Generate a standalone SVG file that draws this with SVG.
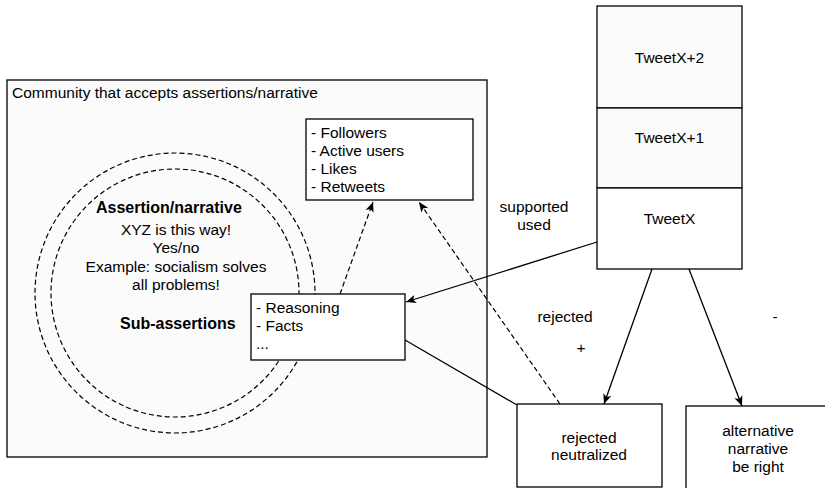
<svg xmlns="http://www.w3.org/2000/svg" width="825" height="488" viewBox="0 0 825 488">
<defs>
<style>
text{font-family:"Liberation Sans",Arial,sans-serif;font-size:15.5px;fill:#000}
.b{font-weight:bold;font-size:16px}
.m{text-anchor:middle}
.box{fill:#fff;stroke:#000;stroke-width:1.3}
.grey{fill:#fbfbfb;stroke:#000;stroke-width:1.3}
.dash{fill:none;stroke:#000;stroke-width:1.2;stroke-dasharray:5 3}
.ln{fill:none;stroke:#000;stroke-width:1.3}
</style>
<marker id="ah" viewBox="0 0 10 10" refX="10" refY="5" markerWidth="10" markerHeight="10" markerUnits="userSpaceOnUse" orient="auto">
<path d="M0,0.8 L10,5 L0,9.2 L2.5,5 Z" fill="#000"/>
</marker>
</defs>
<rect width="825" height="488" fill="#fff"/>
<g id="community">
<rect class="grey" x="7" y="80" width="480" height="377"/>
<text x="12" y="98">Community that accepts assertions/narrative</text>
</g>
<g id="assertion">
<circle class="dash" cx="175" cy="293" r="140"/>
<circle class="dash" cx="175" cy="293" r="124"/>
<text class="b" x="96" y="213">Assertion/narrative</text>
<text class="m" x="176" y="235">XYZ is this way!</text>
<text class="m" x="176" y="253">Yes/no</text>
<text class="m" x="176" y="272">Example: socialism solves</text>
<text class="m" x="176" y="290">all problems!</text>
<text class="b" x="120" y="329">Sub-assertions</text>
</g>
<g id="metrics">
<rect class="box" x="306" y="119" width="167" height="81"/>
<text x="311" y="138">- Followers</text>
<text x="311" y="156">- Active users</text>
<text x="311" y="174">- Likes</text>
<text x="311" y="192">- Retweets</text>
</g>
<g id="reasoning">
<rect class="box" x="251" y="294" width="154" height="66"/>
<text x="256" y="313">- Reasoning</text>
<text x="256" y="331">- Facts</text>
<text x="256" y="349">...</text>
</g>
<g id="tweetx2">
<rect class="grey" x="597" y="6" width="145" height="102"/>
<text class="m" x="669.5" y="63">TweetX+2</text>
</g>
<g id="tweetx1">
<rect class="grey" x="597" y="108" width="145" height="80"/>
<text class="m" x="669.5" y="143">TweetX+1</text>
</g>
<g id="tweetx">
<rect class="box" x="597" y="188" width="145" height="81"/>
<text class="m" x="669.5" y="224">TweetX</text>
</g>
<g id="rejected-box">
<rect class="box" x="517" y="404" width="145" height="83"/>
<text class="m" x="589" y="443">rejected</text>
<text class="m" x="589" y="460">neutralized</text>
</g>
<g id="alternative-box">
<rect class="box" x="686" y="406" width="150" height="90"/>
<text class="m" x="758" y="436">alternative</text>
<text class="m" x="758" y="454">narrative</text>
<text class="m" x="758" y="472">be right</text>
</g>
<g id="connectors">
<line class="dash" x1="340" y1="294" x2="373" y2="202" marker-end="url(#ah)"/>
<line class="dash" x1="560" y1="404" x2="419" y2="202" marker-end="url(#ah)"/>
<line class="ln" x1="597" y1="242" x2="406" y2="302" marker-end="url(#ah)"/>
<line class="ln" x1="405" y1="340" x2="517" y2="405"/>
<line class="ln" x1="652" y1="269" x2="604" y2="404" marker-end="url(#ah)"/>
<line class="ln" x1="689" y1="269" x2="742" y2="406" marker-end="url(#ah)"/>
<text class="m" x="534" y="212">supported</text>
<text class="m" x="534" y="230">used</text>
<text class="m" x="565" y="322">rejected</text>
<text class="m" x="581" y="353">+</text>
<text class="m" x="775" y="322">-</text>
</g>
</svg>
